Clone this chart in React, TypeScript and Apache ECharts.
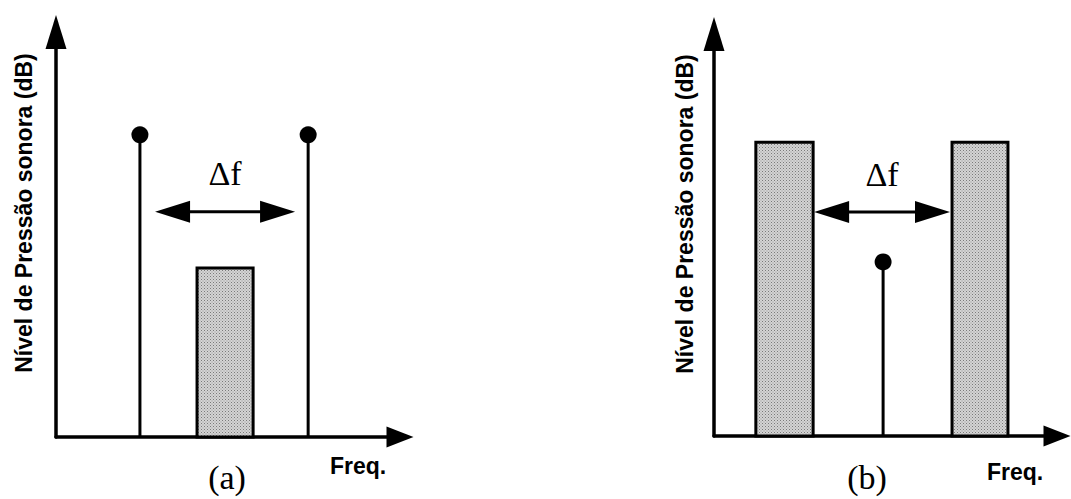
import React, { useEffect, useRef } from "react";
import * as echarts from "echarts";

// Panel (a): stems [x, level], band [xStart, xEnd, level], Δf arrow [xFrom, xTo, level]
const stemsA = [[24.4, 74.6], [73.3, 74.6]];
const bandsA = [[41.0, 57.3, 41.7]];
const deltaA = [[28.8, 69.5, 55.6]];
// Panel (b)
const stemsB = [[49.3, 43.3]];
const bandsB = [[12.2, 28.9, 73.1], [69.4, 85.7, 73.1]];
const deltaB = [[29.2, 68.8, 55.7]];

const yTitle = "Nível de Pressão sonora (dB)";
const xTitle = "Freq.";
const panelLabels = ["(a)", "(b)"];
const deltaLabel = "Δf";

const tile =
  "data:image/svg+xml;utf8," +
  encodeURIComponent(
    "<svg xmlns='http://www.w3.org/2000/svg' width='3' height='3'><rect width='3' height='3' fill='#d4d4d4'/><rect width='1' height='1' fill='#7a7a7a'/><rect x='1.5' y='1.5' width='1' height='1' fill='#959595'/></svg>"
  );

export default function App() {
  const ref = useRef<HTMLDivElement>(null);
  useEffect(() => {
    const chart = echarts.init(ref.current!, null, { renderer: "svg" });
    const axisLine = (sym: number[]) => ({
      show: true,
      symbol: ["none", "triangle"],
      symbolSize: sym,
      lineStyle: { color: "#000", width: 3.5 },
    });
    const xAxisBase = (grid: number) => ({
      type: "value",
      gridIndex: grid,
      min: 0,
      max: 100,
      axisLine: axisLine([21, 27]),
      axisTick: { show: false },
      axisLabel: { show: false },
      splitLine: { show: false },
    });
    const yAxisBase = (grid: number) => ({
      type: "value",
      gridIndex: grid,
      min: 0,
      max: 100,
      axisLine: axisLine([21, 34]),
      axisTick: { show: false },
      axisLabel: { show: false },
      splitLine: { show: false },
    });

    const stemSeries = (idx: number, data: number[][]) => ({
      type: "custom",
      xAxisIndex: idx,
      yAxisIndex: idx,
      data,
      renderItem: (_p: any, api: any) => {
        const x = api.value(0);
        const y = api.value(1);
        const top = api.coord([x, y]);
        const base = api.coord([x, 0]);
        return {
          type: "group",
          children: [
            { type: "line", shape: { x1: base[0], y1: base[1], x2: top[0], y2: top[1] }, style: { stroke: "#000", lineWidth: 3 } },
            { type: "circle", shape: { cx: top[0], cy: top[1], r: 8.5 }, style: { fill: "#000" } },
          ],
        };
      },
    });
    const bandSeries = (idx: number, data: number[][]) => ({
      type: "custom",
      xAxisIndex: idx,
      yAxisIndex: idx,
      data,
      renderItem: (_p: any, api: any) => {
        const p0 = api.coord([api.value(0), api.value(2)]);
        const p1 = api.coord([api.value(1), 0]);
        return {
          type: "rect",
          shape: { x: p0[0], y: p0[1], width: p1[0] - p0[0], height: p1[1] - p0[1] },
          style: { fill: { image: tile, repeat: "repeat" }, stroke: "#000", lineWidth: 3 },
        };
      },
    });
    const deltaSeries = (idx: number, data: number[][]) => ({
      type: "custom",
      xAxisIndex: idx,
      yAxisIndex: idx,
      data,
      renderItem: (_p: any, api: any) => {
        const a = api.coord([api.value(0), api.value(2)]);
        const b = api.coord([api.value(1), api.value(2)]);
        const L = 35;
        const H = 11;
        const y = a[1];
        return {
          type: "group",
          children: [
            { type: "line", shape: { x1: a[0] + L - 2, y1: y, x2: b[0] - L + 2, y2: y }, style: { stroke: "#000", lineWidth: 3 } },
            { type: "polygon", shape: { points: [[a[0], y], [a[0] + L, y - H], [a[0] + L, y + H]] }, style: { fill: "#000" } },
            { type: "polygon", shape: { points: [[b[0], y], [b[0] - L, y - H], [b[0] - L, y + H]] }, style: { fill: "#000" } },
            {
              type: "text",
              x: (a[0] + b[0]) / 2,
              y: y - 38,
              style: { text: deltaLabel, font: "34px 'Liberation Serif', serif", fill: "#000", align: "center", verticalAlign: "middle" },
            },
          ],
        };
      },
    });

    const sideText = (x: number, y: number) => ({
      type: "text",
      x,
      y,
      rotation: Math.PI / 2,
      style: { text: yTitle, font: "bold 23px 'Liberation Sans', Arial, sans-serif", fill: "#000", align: "center", verticalAlign: "middle" },
    });
    const freqText = (x: number, y: number) => ({
      type: "text",
      x,
      y,
      style: { text: xTitle, font: "bold 23px 'Liberation Sans', Arial, sans-serif", fill: "#000", align: "center", verticalAlign: "middle" },
    });
    const panelText = (x: number, y: number, t: string) => ({
      type: "text",
      x,
      y,
      style: { text: t, font: "34px 'Liberation Serif', serif", fill: "#000", align: "center", verticalAlign: "middle" },
    });

    chart.setOption({
      animation: false,
      backgroundColor: "#fff",
      grid: [
        { left: 56, top: 32, width: 344, height: 405 },
        { left: 714, top: 34, width: 343, height: 402 },
      ],
      xAxis: [xAxisBase(0), xAxisBase(1)],
      yAxis: [yAxisBase(0), yAxisBase(1)],
      series: [
        bandSeries(0, bandsA),
        stemSeries(0, stemsA),
        deltaSeries(0, deltaA),
        bandSeries(1, bandsB),
        stemSeries(1, stemsB),
        deltaSeries(1, deltaB),
      ],
      graphic: [
        sideText(24, 213),
        sideText(685, 214),
        freqText(358, 466),
        freqText(1015, 472),
        panelText(227, 477, panelLabels[0]),
        panelText(867, 477, panelLabels[1]),
      ],
    });
    return () => chart.dispose();
  }, []);
  return <div ref={ref} style={{ position: "fixed", left: 0, top: 0, width: 1071, height: 499 }} />;
}
